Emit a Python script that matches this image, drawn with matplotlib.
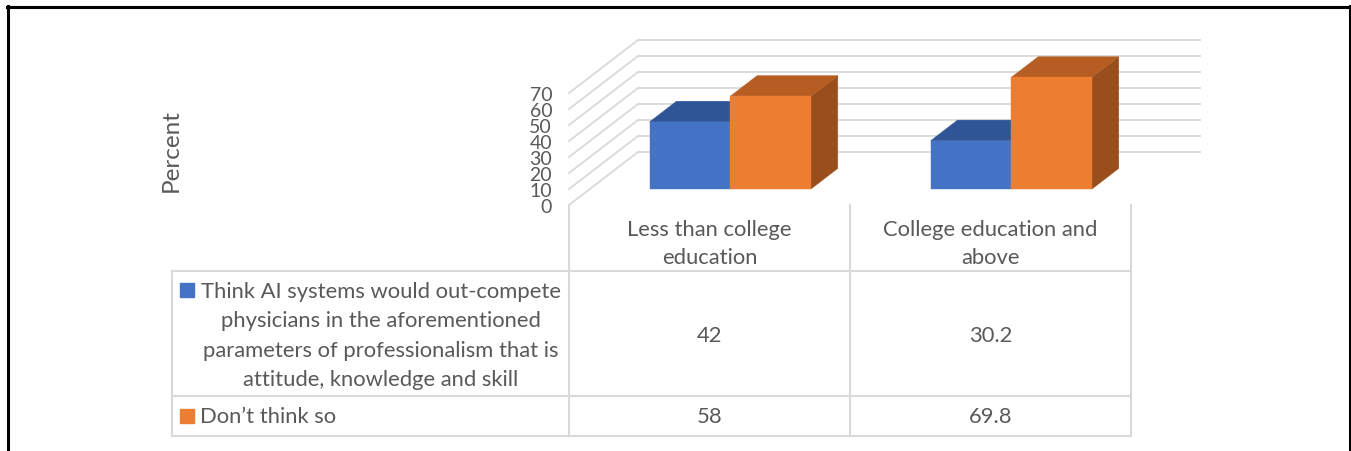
import matplotlib
matplotlib.use("Agg")
import matplotlib.pyplot as plt
from matplotlib.patches import Polygon

plt.rcParams['font.family'] = ['Lato', 'DejaVu Sans']

# ---------------- data ----------------
categories = ["Less than college\neducation", "College education and\nabove"]
series_names = ["Think AI systems would out-compete\nphysicians in the aforementioned\n"
                "parameters of professionalism that is\nattitude, knowledge and skill",
                "Don\u2019t think so"]
think_ai = [42, 30.2]
dont_think = [58, 69.8]
value_labels = [["42", "30.2"], ["58", "69.8"]]
y_ticks = [0, 10, 20, 30, 40, 50, 60, 70]
y_label = "Percent"

# ---------------- style ----------------
front_cols = ["#4472C4", "#ED7D31"]
top_cols = ["#2F5597", "#B55D22"]
side_cols = ["#2A4B85", "#9A4E1C"]
grid_col = "#D9D9D9"
text_col = "#595959"

W, H = 1351, 452
fig = plt.figure(figsize=(W / 100, H / 100), dpi=100)
bg = fig.add_axes([0, 0, 1, 1])
bg.set_xlim(0, W)
bg.set_ylim(H, 0)
bg.axis('off')

# chart axes (front plane of the 3-D plot)
x0px, x1px = 569, 1131
px_per_unit = 1.6
y0px = 206
ytop = y0px - px_per_unit * y_ticks[-1]
ax = fig.add_axes([x0px / W, (H - y0px) / H, (x1px - x0px) / W, (y0px - ytop) / H])
ax.set_xlim(0, len(categories))
ax.set_ylim(0, y_ticks[-1])
ax.axis('off')

slot_px = (x1px - x0px) / len(categories)
dx = 69 / slot_px          # depth offset in x data units
dy = 53 / px_per_unit      # depth offset in y data units
f_front, f_back = 0.30, 0.69
w = 0.287

# gridlines: side wall diagonals + back wall
for v in y_ticks:
    ax.plot([0, dx], [v, v + dy], color=grid_col, lw=1.3, clip_on=False, zorder=1)
    ax.plot([dx, len(categories) + dx], [v + dy, v + dy], color=grid_col, lw=1.3,
            clip_on=False, zorder=1)
    ax.text(-0.06, v - 0.8, str(v), ha='right', va='center', fontsize=14, color=text_col)

# bars
series = [think_ai, dont_think]
for i in range(len(categories)):
    for j, vals in enumerate(series):
        v = vals[i]
        xl = i + 0.5 - w + j * w
        xr = xl + w
        fx, fy = f_front * dx, f_front * dy
        bx, by = f_back * dx, f_back * dy
        side = [(xr + fx, fy), (xr + bx, by), (xr + bx, v + by), (xr + fx, v + fy)]
        top = [(xl + fx, v + fy), (xr + fx, v + fy), (xr + bx, v + by), (xl + bx, v + by)]
        front = [(xl + fx, fy), (xr + fx, fy), (xr + fx, v + fy), (xl + fx, v + fy)]
        z = 2 + j
        for poly, col in ((side, side_cols[j]), (top, top_cols[j]), (front, front_cols[j])):
            ax.add_patch(Polygon(poly, closed=True, facecolor=col, edgecolor=col,
                                 lw=0.3, clip_on=False, zorder=z))

# ---------------- data table ----------------
tcol = [172, 569, 850, 1131]
trow = [206, 272, 397, 437]
lw_t = 1.5
for x in tcol[1:]:
    bg.plot([x, x], [trow[0], trow[-1]], color=grid_col, lw=lw_t)
bg.plot([tcol[0], tcol[0]], [trow[1], trow[-1]], color=grid_col, lw=lw_t)
for y in trow[1:]:
    bg.plot([tcol[0], tcol[-1]], [y, y], color=grid_col, lw=lw_t)

fs = 15.8
for i, cat in enumerate(categories):
    cx = (tcol[i + 1] + tcol[i + 2]) / 2
    bg.text(cx, 244, cat, ha='center', va='center', fontsize=fs, color=text_col,
            linespacing=1.55)

row_cy = [336, 417]
for r, name in enumerate(series_names):
    cy = row_cy[r]
    if r == 0:
        bg.add_patch(plt.Rectangle((180, 284), 14, 14, color=front_cols[r]))
        bg.text(381, cy, name, ha='center', va='center', fontsize=fs, color=text_col,
                linespacing=1.58)
    else:
        bg.add_patch(plt.Rectangle((180, cy - 7), 14, 14, color=front_cols[r]))
        bg.text(200, cy, name, ha='left', va='center', fontsize=fs, color=text_col)
    for i in range(len(categories)):
        cx = (tcol[i + 1] + tcol[i + 2]) / 2
        bg.text(cx, cy, value_labels[r][i], ha='center', va='center', fontsize=fs,
                color=text_col)

# y label
bg.text(171, 151, y_label, rotation=90, ha='center', va='center', fontsize=17.5,
        color=text_col)

# outer border
bw = 2.2
bg.plot([7.5, 7.5], [7, H + 5], color='black', lw=bw, solid_capstyle='projecting')
bg.plot([7, 1350], [7.5, 7.5], color='black', lw=bw, solid_capstyle='projecting')
bg.plot([1349.5, 1349.5], [7, H + 5], color='black', lw=bw, solid_capstyle='projecting')

fig.savefig("out.png", dpi=100)
